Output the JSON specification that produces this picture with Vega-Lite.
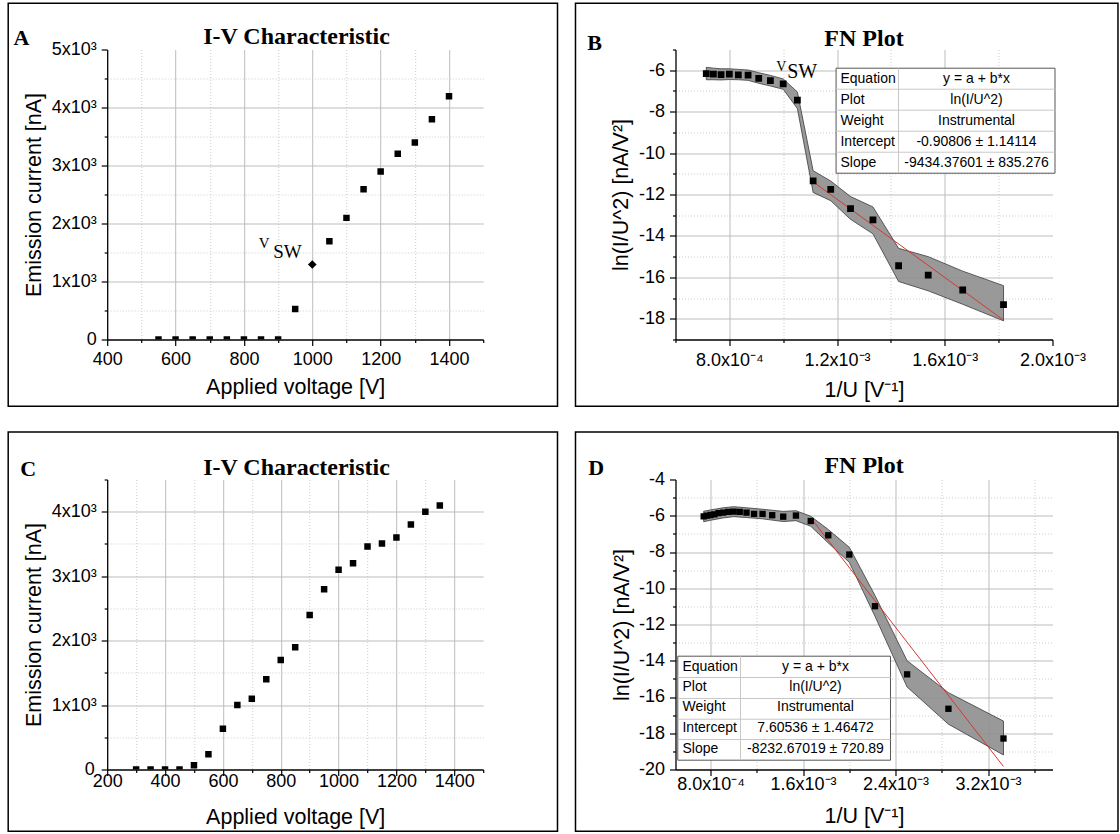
{
  "$schema": "https://vega.github.io/schema/vega-lite/v6.json",
  "background": "white",
  "padding": {"left": 7.2, "top": 1.5, "right": 0, "bottom": 0},
  "columns": 2,
  "spacing": {"row": 140, "column": 192.3},
  "bounds": "flush",
  "datasets": {
    "ptsA": [{"x":550,"y":0},{"x":600,"y":0},{"x":650,"y":0},{"x":700,"y":0},{"x":750,"y":0},{"x":800,"y":0},{"x":850,"y":0},{"x":900,"y":0},{"x":950,"y":525},{"x":1050,"y":1695},{"x":1100,"y":2097},{"x":1150,"y":2591},{"x":1200,"y":2896},{"x":1250,"y":3201},{"x":1300,"y":3396},{"x":1350,"y":3798},{"x":1400,"y":4195}],
    "swA": [{"x":1000,"y":1293}],
    "frameA": [{"x":110.4,"x2":1717.4,"y":5798.3,"y2":-1150}],
    "txtA": [{"x":149.3,"y":5194.8,"text":"A","role":"letter"},{"x":953.8,"y":5212,"text":"I-V Characteristic","role":"title"},{"x":859.3,"y":1660,"text":"V","role":"v"},{"x":927.5,"y":1505,"text":"SW","role":"sub"}],
    "ptsB": [{"x":0.00071429,"y":-6.16},{"x":0.00074074,"y":-6.19},{"x":0.00076923,"y":-6.21},{"x":0.0008,"y":-6.19},{"x":0.00083333,"y":-6.22},{"x":0.00086957,"y":-6.24},{"x":0.00090909,"y":-6.39},{"x":0.00095238,"y":-6.5},{"x":0.001,"y":-6.66},{"x":0.00105263,"y":-7.44},{"x":0.00111111,"y":-11.34},{"x":0.00117647,"y":-11.75},{"x":0.00125,"y":-12.68},{"x":0.00133333,"y":-13.22},{"x":0.00142857,"y":-15.44},{"x":0.00153846,"y":-15.89},{"x":0.00166667,"y":-16.61},{"x":0.00181818,"y":-17.32}],
    "bandB": [{"x":0.00071429,"y":-5.86,"y2":-6.46},{"x":0.00074074,"y":-5.9,"y2":-6.46},{"x":0.00076923,"y":-5.93,"y2":-6.47},{"x":0.0008,"y":-5.93,"y2":-6.45},{"x":0.00083333,"y":-5.96,"y2":-6.46},{"x":0.00086957,"y":-5.99,"y2":-6.49},{"x":0.00090909,"y":-6.12,"y2":-6.63},{"x":0.00095238,"y":-6.25,"y2":-6.76},{"x":0.001,"y":-6.42,"y2":-6.92},{"x":0.00105263,"y":-7.05,"y2":-7.85},{"x":0.00111111,"y":-10.85,"y2":-11.9},{"x":0.00117647,"y":-11.35,"y2":-12.3},{"x":0.00125,"y":-12.1,"y2":-13.2},{"x":0.00133333,"y":-12.6,"y2":-13.9},{"x":0.00142857,"y":-14.6,"y2":-16.2},{"x":0.00153846,"y":-15.0,"y2":-16.65},{"x":0.00166667,"y":-15.7,"y2":-17.3},{"x":0.00181818,"y":-16.4,"y2":-18.1}],
    "fitB": [{"x":0.00111111,"y":-11.391},{"x":0.00181818,"y":-18.061}],
    "frameB": [{"x":0.00022865,"x2":0.0022432,"y":-2.7648,"y2":-22.22}],
    "txtB": [{"x":0.0002992,"y":-4.71,"text":"B","role":"letter"},{"x":0.0013,"y":-4.503,"text":"FN Plot","role":"title"},{"x":0.0009925,"y":-5.854,"text":"V","role":"v"},{"x":0.0010705,"y":-6.096,"text":"SW","role":"sub"}],
    "tblBoxB": [{"x":0.0011964,"x2":0.0020093,"y":-5.903,"y2":-10.972}],
    "tblSepB": [{"x":0.0011964,"x2":0.0020093,"y":-6.917},{"x":0.0011964,"x2":0.0020093,"y":-7.931},{"x":0.0011964,"x2":0.0020093,"y":-8.945},{"x":0.0011964,"x2":0.0020093,"y":-9.958}],
    "tblDivB": [{"x":0.0014281,"y":-5.903,"y2":-10.972}],
    "tblLabB": [{"x":0.0012127,"y":-6.41,"text":"Equation"},{"x":0.0012127,"y":-7.423,"text":"Plot"},{"x":0.0012127,"y":-8.437,"text":"Weight"},{"x":0.0012127,"y":-9.451,"text":"Intercept"},{"x":0.0012127,"y":-10.465,"text":"Slope"}],
    "tblValB": [{"x":0.0017178,"y":-6.41,"text":"y = a + b*x"},{"x":0.0017178,"y":-7.423,"text":"ln(I/U^2)"},{"x":0.0017178,"y":-8.437,"text":"Instrumental"},{"x":0.0017178,"y":-9.451,"text":"-0.90806 ± 1.14114"},{"x":0.0017178,"y":-10.465,"text":"-9434.37601 ± 835.276"}],
    "ptsC": [{"x":300,"y":0},{"x":350,"y":0},{"x":400,"y":0},{"x":450,"y":0},{"x":500,"y":67},{"x":550,"y":238},{"x":600,"y":632},{"x":650,"y":1000},{"x":700,"y":1098},{"x":750,"y":1399},{"x":800,"y":1699},{"x":850,"y":1896},{"x":900,"y":2399},{"x":950,"y":2798},{"x":1000,"y":3098},{"x":1050,"y":3202},{"x":1100,"y":3461},{"x":1150,"y":3508},{"x":1200,"y":3601},{"x":1250,"y":3800},{"x":1300,"y":4000},{"x":1350,"y":4098}],
    "frameC": [{"x":-142.3,"x2":1756.9,"y":5238.5,"y2":-957.4}],
    "txtC": [{"x":-73.5,"y":4659.8,"text":"C","role":"letter"},{"x":854.5,"y":4683,"text":"I-V Characteristic","role":"title"}],
    "ptsD": [{"x":0.00074074,"y":-6.03},{"x":0.00076923,"y":-5.99},{"x":0.0008,"y":-5.96},{"x":0.00083333,"y":-5.92},{"x":0.00086957,"y":-5.86},{"x":0.00090909,"y":-5.83},{"x":0.00095238,"y":-5.79},{"x":0.001,"y":-5.77},{"x":0.00105263,"y":-5.79},{"x":0.00111111,"y":-5.83},{"x":0.00117647,"y":-5.9},{"x":0.00125,"y":-5.9},{"x":0.00133333,"y":-5.97},{"x":0.00142857,"y":-6.05},{"x":0.00153846,"y":-5.99},{"x":0.00166667,"y":-6.29},{"x":0.00181818,"y":-7.08},{"x":0.002,"y":-8.14},{"x":0.00222222,"y":-10.99},{"x":0.0025,"y":-14.75},{"x":0.00285714,"y":-16.65},{"x":0.00333333,"y":-18.29}],
    "bandD": [{"x":0.00074074,"y":-5.75,"y2":-6.33},{"x":0.0008,"y":-5.68,"y2":-6.25},{"x":0.00090909,"y":-5.56,"y2":-6.12},{"x":0.001,"y":-5.5,"y2":-6.05},{"x":0.00111111,"y":-5.56,"y2":-6.1},{"x":0.00125,"y":-5.64,"y2":-6.17},{"x":0.00142857,"y":-5.76,"y2":-6.32},{"x":0.00153846,"y":-5.72,"y2":-6.27},{"x":0.00166667,"y":-6.03,"y2":-6.58},{"x":0.00181818,"y":-6.76,"y2":-7.5},{"x":0.002,"y":-7.74,"y2":-8.57},{"x":0.00222222,"y":-10.4,"y2":-11.55},{"x":0.0025,"y":-14.0,"y2":-15.45},{"x":0.00285714,"y":-15.76,"y2":-17.5},{"x":0.00333333,"y":-17.33,"y2":-19.2}],
    "fitD": [{"x":0.00166667,"y":-6.116},{"x":0.00333333,"y":-19.837}],
    "frameD": [{"x":-0.0003677,"x2":0.0043234,"y":-1.3738,"y2":-23.404}],
    "txtD": [{"x":-0.0001896,"y":-3.393,"text":"D","role":"letter"},{"x":0.0021279,"y":-3.266,"text":"FN Plot","role":"title"}],
    "tblBoxD": [{"x":0.0005169,"x2":0.0023561,"y":-13.749,"y2":-19.487}],
    "tblSepD": [{"x":0.0005169,"x2":0.0023561,"y":-14.924},{"x":0.0005169,"x2":0.0023561,"y":-16.083},{"x":0.0005169,"x2":0.0023561,"y":-17.225},{"x":0.0005169,"x2":0.0023561,"y":-18.345}],
    "tblDivD": [{"x":0.0010591,"y":-13.749,"y2":-19.487}],
    "tblLabD": [{"x":0.0005575,"y":-14.339,"text":"Equation"},{"x":0.0005575,"y":-15.443,"text":"Plot"},{"x":0.0005575,"y":-16.579,"text":"Weight"},{"x":0.0005575,"y":-17.738,"text":"Intercept"},{"x":0.0005575,"y":-18.896,"text":"Slope"}],
    "tblValD": [{"x":0.0017076,"y":-14.339,"text":"y = a + b*x"},{"x":0.0017076,"y":-15.443,"text":"ln(I/U^2)"},{"x":0.0017076,"y":-16.579,"text":"Instrumental"},{"x":0.0017076,"y":-17.738,"text":"7.60536 ± 1.46472"},{"x":0.0017076,"y":-18.896,"text":"-8232.67019 ± 720.89"}]
  },
  "concat": [
    {
      "width": 376, "height": 290,
      "encoding": {
        "x": {"field": "x", "type": "quantitative", "scale": {"domain": [400, 1500], "nice": false, "zero": false},
          "axis": {"title": "Applied voltage [V]", "values": [400,500,600,700,800,900,1000,1100,1200,1300,1400,1500],
            "labelExpr": "datum.value % 200 == 0 ? '' + datum.value : ''",
            "tickSize": {"condition": {"test": "datum.value % 200 == 0", "value": 6}, "value": 3},
            "gridColor": {"condition": {"test": "datum.value % 200 == 0", "value": "#bdbdbd"}, "value": "#cdcdcd"},
            "gridDash": {"condition": {"test": "datum.value % 200 == 0", "value": []}, "value": [1, 2]},
            "gridOpacity": {"condition": {"test": "datum.value == 400 || datum.value == 1500", "value": 0}, "value": 1},
            "labelPadding": 5, "titlePadding": 8}},
        "y": {"field": "y", "type": "quantitative", "scale": {"domain": [0, 5000], "nice": false, "zero": false},
          "axis": {"title": "Emission current [nA]", "values": [0,500,1000,1500,2000,2500,3000,3500,4000,4500,5000],
            "labelExpr": "datum.value == 0 ? '0' : (datum.value % 1000 == 0 ? (datum.value / 1000) + 'x10³' : '')",
            "tickSize": {"condition": {"test": "datum.value % 1000 == 0", "value": 6}, "value": 3},
            "gridColor": {"condition": {"test": "datum.value % 1000 == 0", "value": "#bdbdbd"}, "value": "#cdcdcd"},
            "gridDash": {"condition": {"test": "datum.value % 1000 == 0", "value": []}, "value": [1, 2]},
            "gridOpacity": {"condition": {"test": "datum.value == 0 || datum.value == 5000", "value": 0}, "value": 1},
            "labelPadding": 5, "titlePadding": 5.5}}
      },
      "layer": [
        {"data": {"name": "ptsA"}, "mark": {"type": "point", "shape": "square", "filled": true, "color": "#000", "opacity": 1, "size": 42, "clip": true}},
        {"data": {"name": "swA"}, "mark": {"type": "point", "shape": "diamond", "filled": true, "color": "#000", "opacity": 1, "size": 75}},
        {"data": {"name": "txtA"}, "transform": [{"filter": "datum.role == 'letter'"}], "mark": {"type": "text", "font": "Liberation Serif", "fontWeight": "bold", "fontSize": 22, "color": "#000", "align": "center", "baseline": "middle"}, "encoding": {"text": {"field": "text"}}},
        {"data": {"name": "txtA"}, "transform": [{"filter": "datum.role == 'title'"}], "mark": {"type": "text", "font": "Liberation Serif", "fontWeight": "bold", "fontSize": 24, "color": "#000", "align": "center", "baseline": "middle"}, "encoding": {"text": {"field": "text"}}},
        {"data": {"name": "txtA"}, "transform": [{"filter": "datum.role == 'v'"}], "mark": {"type": "text", "font": "Liberation Serif", "fontSize": 15, "color": "#000", "align": "center", "baseline": "middle"}, "encoding": {"text": {"field": "text"}}},
        {"data": {"name": "txtA"}, "transform": [{"filter": "datum.role == 'sub'"}], "mark": {"type": "text", "font": "Liberation Serif", "fontSize": 19, "color": "#000", "align": "center", "baseline": "middle"}, "encoding": {"text": {"field": "text"}}},
        {"data": {"name": "frameA"}, "mark": {"type": "rect", "fillOpacity": 0, "stroke": "#000", "strokeWidth": 1.5}, "encoding": {"x2": {"field": "x2"}, "y2": {"field": "y2"}}}
      ]
    },
    {
      "width": 377, "height": 290,
      "encoding": {
        "x": {"field": "x", "type": "quantitative", "scale": {"domain": [0.0006, 0.002], "nice": false, "zero": false},
          "axis": {"title": "1/U [V⁻¹]", "values": [0.0006,0.0008,0.001,0.0012,0.0014,0.0016,0.0018,0.002],
            "labelExpr": "round(datum.value*1e5)==80 ? '8.0x10⁻⁴' : round(datum.value*1e5)==120 ? '1.2x10⁻³' : round(datum.value*1e5)==160 ? '1.6x10⁻³' : round(datum.value*1e5)==200 ? '2.0x10⁻³' : ''",
            "tickSize": {"condition": {"test": "round(datum.value*1e5) % 40 == 0", "value": 6}, "value": 3},
            "gridColor": {"condition": {"test": "round(datum.value*1e5) % 40 == 0", "value": "#bdbdbd"}, "value": "#cdcdcd"},
            "gridDash": {"condition": {"test": "round(datum.value*1e5) % 40 == 0", "value": []}, "value": [1, 2]},
            "gridOpacity": {"condition": {"test": "round(datum.value*1e5) == 60 || round(datum.value*1e5) == 200", "value": 0}, "value": 1},
            "labelPadding": 6, "titlePadding": 9.5}},
        "y": {"field": "y", "type": "quantitative", "scale": {"domain": [-19, -5], "nice": false, "zero": false},
          "axis": {"title": "ln(I/U^2) [nA/V²]", "values": [-19,-18,-17,-16,-15,-14,-13,-12,-11,-10,-9,-8,-7,-6,-5],
            "labelExpr": "datum.value % 2 == 0 ? '' + datum.value : ''",
            "tickSize": {"condition": {"test": "datum.value % 2 == 0", "value": 6}, "value": 3},
            "gridColor": {"condition": {"test": "datum.value % 2 == 0", "value": "#bdbdbd"}, "value": "#cdcdcd"},
            "gridDash": {"condition": {"test": "datum.value % 2 == 0", "value": []}, "value": [1, 2]},
            "gridOpacity": {"condition": {"test": "datum.value == -19 || datum.value == -5", "value": 0}, "value": 1},
            "labelPadding": 5, "titlePadding": 5.5}}
      },
      "layer": [
        {"data": {"name": "bandB"}, "mark": {"type": "area", "fill": "#8e8e8e", "fillOpacity": 0.9, "stroke": "#3a3a3a", "strokeWidth": 0.8}, "encoding": {"y2": {"field": "y2"}}},
        {"data": {"name": "fitB"}, "mark": {"type": "line", "color": "#d2392e", "strokeWidth": 1}},
        {"data": {"name": "ptsB"}, "mark": {"type": "point", "shape": "square", "filled": true, "color": "#000", "opacity": 1, "size": 46, "clip": true}},
        {"data": {"name": "tblBoxB"}, "mark": {"type": "rect", "fill": "#fff", "stroke": "#555", "strokeWidth": 1}, "encoding": {"x2": {"field": "x2"}, "y2": {"field": "y2"}}},
        {"data": {"name": "tblSepB"}, "mark": {"type": "rule", "color": "#c8c8c8", "strokeWidth": 1}, "encoding": {"x2": {"field": "x2"}}},
        {"data": {"name": "tblDivB"}, "mark": {"type": "rule", "color": "#c8c8c8", "strokeWidth": 1}, "encoding": {"y2": {"field": "y2"}}},
        {"data": {"name": "tblLabB"}, "mark": {"type": "text", "font": "Liberation Sans", "fontSize": 14, "color": "#000", "align": "left", "baseline": "middle"}, "encoding": {"text": {"field": "text"}}},
        {"data": {"name": "tblValB"}, "mark": {"type": "text", "font": "Liberation Sans", "fontSize": 14, "color": "#000", "align": "center", "baseline": "middle"}, "encoding": {"text": {"field": "text"}}},
        {"data": {"name": "txtB"}, "transform": [{"filter": "datum.role == 'letter'"}], "mark": {"type": "text", "font": "Liberation Serif", "fontWeight": "bold", "fontSize": 22, "color": "#000", "align": "center", "baseline": "middle"}, "encoding": {"text": {"field": "text"}}},
        {"data": {"name": "txtB"}, "transform": [{"filter": "datum.role == 'title'"}], "mark": {"type": "text", "font": "Liberation Serif", "fontWeight": "bold", "fontSize": 24, "color": "#000", "align": "center", "baseline": "middle"}, "encoding": {"text": {"field": "text"}}},
        {"data": {"name": "txtB"}, "transform": [{"filter": "datum.role == 'v'"}], "mark": {"type": "text", "font": "Liberation Serif", "fontSize": 14, "color": "#000", "align": "center", "baseline": "middle"}, "encoding": {"text": {"field": "text"}}},
        {"data": {"name": "txtB"}, "transform": [{"filter": "datum.role == 'sub'"}], "mark": {"type": "text", "font": "Liberation Serif", "fontSize": 20, "color": "#000", "align": "center", "baseline": "middle"}, "encoding": {"text": {"field": "text"}}},
        {"data": {"name": "frameB"}, "mark": {"type": "rect", "fillOpacity": 0, "stroke": "#000", "strokeWidth": 1.5}, "encoding": {"x2": {"field": "x2"}, "y2": {"field": "y2"}}}
      ]
    },
    {
      "width": 376, "height": 290,
      "encoding": {
        "x": {"field": "x", "type": "quantitative", "scale": {"domain": [200, 1500], "nice": false, "zero": false},
          "axis": {"title": "Applied voltage [V]", "values": [200,300,400,500,600,700,800,900,1000,1100,1200,1300,1400,1500],
            "labelExpr": "datum.value % 200 == 0 ? '' + datum.value : ''",
            "tickSize": {"condition": {"test": "datum.value % 200 == 0", "value": 6}, "value": 3},
            "gridColor": {"condition": {"test": "datum.value % 200 == 0", "value": "#bdbdbd"}, "value": "#cdcdcd"},
            "gridDash": {"condition": {"test": "datum.value % 200 == 0", "value": []}, "value": [1, 2]},
            "gridOpacity": {"condition": {"test": "datum.value == 200 || datum.value == 1500", "value": 0}, "value": 1},
            "labelPadding": -2.5, "titlePadding": 15.5}},
        "y": {"field": "y", "type": "quantitative", "scale": {"domain": [0, 4500], "nice": false, "zero": false},
          "axis": {"title": "Emission current [nA]", "values": [0,500,1000,1500,2000,2500,3000,3500,4000,4500],
            "labelExpr": "datum.value == 0 ? '0' : (datum.value % 1000 == 0 ? (datum.value / 1000) + 'x10³' : '')",
            "tickSize": {"condition": {"test": "datum.value % 1000 == 0", "value": 6}, "value": 3},
            "gridColor": {"condition": {"test": "datum.value % 1000 == 0", "value": "#bdbdbd"}, "value": "#cdcdcd"},
            "gridDash": {"condition": {"test": "datum.value % 1000 == 0", "value": []}, "value": [1, 2]},
            "gridOpacity": {"condition": {"test": "datum.value == 0 || datum.value == 4500", "value": 0}, "value": 1},
            "labelPadding": {"condition": {"test": "datum.value == 0", "value": 7}, "value": 5}, "titlePadding": 5.5}}
      },
      "layer": [
        {"data": {"name": "ptsC"}, "mark": {"type": "point", "shape": "square", "filled": true, "color": "#000", "opacity": 1, "size": 42, "clip": true}},
        {"data": {"name": "txtC"}, "transform": [{"filter": "datum.role == 'letter'"}], "mark": {"type": "text", "font": "Liberation Serif", "fontWeight": "bold", "fontSize": 22, "color": "#000", "align": "center", "baseline": "middle"}, "encoding": {"text": {"field": "text"}}},
        {"data": {"name": "txtC"}, "transform": [{"filter": "datum.role == 'title'"}], "mark": {"type": "text", "font": "Liberation Serif", "fontWeight": "bold", "fontSize": 24, "color": "#000", "align": "center", "baseline": "middle"}, "encoding": {"text": {"field": "text"}}},
        {"data": {"name": "frameC"}, "mark": {"type": "rect", "fillOpacity": 0, "stroke": "#000", "strokeWidth": 1.5}, "encoding": {"x2": {"field": "x2"}, "y2": {"field": "y2"}}}
      ]
    },
    {
      "width": 377, "height": 290,
      "encoding": {
        "x": {"field": "x", "type": "quantitative", "scale": {"domain": [0.000497, 0.003757], "nice": false, "zero": false},
          "axis": {"title": "1/U [V⁻¹]", "values": [0.0008,0.0012,0.0016,0.002,0.0024,0.0028,0.0032,0.0036],
            "labelExpr": "round(datum.value*1e4)==8 ? '8.0x10⁻⁴' : round(datum.value*1e4)==16 ? '1.6x10⁻³' : round(datum.value*1e4)==24 ? '2.4x10⁻³' : round(datum.value*1e4)==32 ? '3.2x10⁻³' : ''",
            "tickSize": {"condition": {"test": "round(datum.value*1e4) % 8 == 0", "value": 6}, "value": 3},
            "gridColor": {"condition": {"test": "round(datum.value*1e4) % 8 == 0", "value": "#bdbdbd"}, "value": "#cdcdcd"},
            "gridDash": {"condition": {"test": "round(datum.value*1e4) % 8 == 0", "value": []}, "value": [1, 2]},
            "labelPadding": 0.5, "titlePadding": 12}},
        "y": {"field": "y", "type": "quantitative", "scale": {"domain": [-20, -4], "nice": false, "zero": false},
          "axis": {"title": "ln(I/U^2) [nA/V²]", "values": [-20,-19,-18,-17,-16,-15,-14,-13,-12,-11,-10,-9,-8,-7,-6,-5,-4],
            "labelExpr": "datum.value % 2 == 0 ? '' + datum.value : ''",
            "tickSize": {"condition": {"test": "datum.value % 2 == 0", "value": 6}, "value": 3},
            "gridColor": {"condition": {"test": "datum.value % 2 == 0", "value": "#bdbdbd"}, "value": "#cdcdcd"},
            "gridDash": {"condition": {"test": "datum.value % 2 == 0", "value": []}, "value": [1, 2]},
            "gridOpacity": {"condition": {"test": "datum.value == -20 || datum.value == -4", "value": 0}, "value": 1},
            "labelPadding": 5, "titlePadding": 5}}
      },
      "layer": [
        {"data": {"name": "bandD"}, "mark": {"type": "area", "fill": "#8e8e8e", "fillOpacity": 0.9, "stroke": "#3a3a3a", "strokeWidth": 0.8}, "encoding": {"y2": {"field": "y2"}}},
        {"data": {"name": "fitD"}, "mark": {"type": "line", "color": "#d2392e", "strokeWidth": 1}},
        {"data": {"name": "ptsD"}, "mark": {"type": "point", "shape": "square", "filled": true, "color": "#000", "opacity": 1, "size": 40, "clip": true}},
        {"data": {"name": "tblBoxD"}, "mark": {"type": "rect", "fill": "#fff", "stroke": "#555", "strokeWidth": 1}, "encoding": {"x2": {"field": "x2"}, "y2": {"field": "y2"}}},
        {"data": {"name": "tblSepD"}, "mark": {"type": "rule", "color": "#c8c8c8", "strokeWidth": 1}, "encoding": {"x2": {"field": "x2"}}},
        {"data": {"name": "tblDivD"}, "mark": {"type": "rule", "color": "#c8c8c8", "strokeWidth": 1}, "encoding": {"y2": {"field": "y2"}}},
        {"data": {"name": "tblLabD"}, "mark": {"type": "text", "font": "Liberation Sans", "fontSize": 14, "color": "#000", "align": "left", "baseline": "middle"}, "encoding": {"text": {"field": "text"}}},
        {"data": {"name": "tblValD"}, "mark": {"type": "text", "font": "Liberation Sans", "fontSize": 14, "color": "#000", "align": "center", "baseline": "middle"}, "encoding": {"text": {"field": "text"}}},
        {"data": {"name": "txtD"}, "transform": [{"filter": "datum.role == 'letter'"}], "mark": {"type": "text", "font": "Liberation Serif", "fontWeight": "bold", "fontSize": 22, "color": "#000", "align": "center", "baseline": "middle"}, "encoding": {"text": {"field": "text"}}},
        {"data": {"name": "txtD"}, "transform": [{"filter": "datum.role == 'title'"}], "mark": {"type": "text", "font": "Liberation Serif", "fontWeight": "bold", "fontSize": 24, "color": "#000", "align": "center", "baseline": "middle"}, "encoding": {"text": {"field": "text"}}},
        {"data": {"name": "frameD"}, "mark": {"type": "rect", "fillOpacity": 0, "stroke": "#000", "strokeWidth": 1.5}, "encoding": {"x2": {"field": "x2"}, "y2": {"field": "y2"}}}
      ]
    }
  ],
  "config": {
    "view": {"stroke": null},
    "axis": {"grid": true, "gridWidth": 1, "domainColor": "#000", "domainWidth": 1.3, "tickColor": "#000", "tickWidth": 1.2,
      "labelFont": "Liberation Sans", "labelFontSize": 18, "labelColor": "#000", "labelFlush": false, "labelOverlap": false,
      "titleFont": "Liberation Sans", "titleFontSize": 21.5, "titleFontWeight": "normal", "titleColor": "#000"}
  }
}
